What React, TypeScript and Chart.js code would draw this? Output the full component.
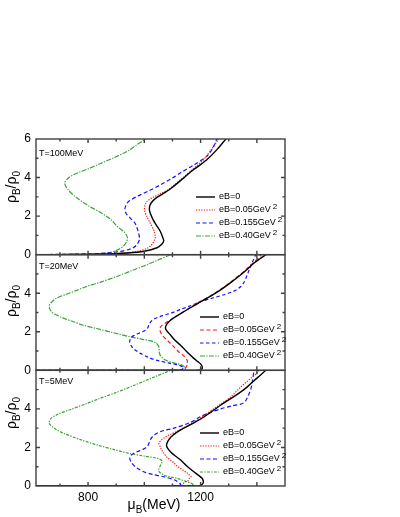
import React, { useEffect, useRef } from 'react';
import { Chart, registerables } from 'chart.js';

Chart.register(...registerables);

type Pt = [number, number];

// ---------- data (μB in MeV, ρB/ρ0) ----------
const PANEL_LABELS = ['T=100MeV', 'T=20MeV', 'T=5MeV'];
const SERIES_LABELS = ['eB=0', 'eB=0.05GeV', 'eB=0.155GeV', 'eB=0.40GeV'];
const SERIES_SUPS = ['', '2', '2', '2'];
const X_TICK_LABELS = [800, 1200];
const Y_TICK_LABELS_TOP = [0, 2, 4, 6];
const Y_TICK_LABELS_LOWER = [0, 2, 4];

// T = 100 MeV
const T100_EB0: Pt[] = [
  [615, 0], [750, 0.01], [850, 0.03], [940, 0.09], [1000, 0.18], [1045, 0.36], [1063, 0.55], [1069, 0.72],
  [1064, 0.95], [1057, 1.2], [1042, 1.55], [1031, 1.82], [1020, 2.2], [1018, 2.42], [1024, 2.68], [1040, 2.92],
  [1060, 3.1], [1093, 3.42], [1135, 3.92], [1165, 4.3], [1195, 4.62], [1224, 4.95], [1258, 5.45], [1290, 6.0], [1300, 6.15],
];
const T100_EB005: Pt[] = [
  [615, 0], [800, 0.02], [900, 0.05], [975, 0.17], [1010, 0.33], [1025, 0.5], [1036, 0.75], [1039, 0.95],
  [1034, 1.25], [1021, 1.64], [1008, 2.0], [1001, 2.3], [1002, 2.55], [1010, 2.76], [1028, 2.95], [1055, 3.15],
  [1090, 3.42], [1130, 3.9], [1160, 4.28], [1210, 4.92], [1238, 5.45], [1264, 6.0], [1274, 6.15],
];
const T100_EB0155: Pt[] = [
  [615, 0], [800, 0.04], [880, 0.1], [914, 0.17], [945, 0.27], [962, 0.37], [975, 0.55], [983, 0.8],
  [978, 1.2], [968, 1.6], [950, 1.9], [936, 2.12], [931, 2.35], [936, 2.6], [946, 2.78], [974, 3.02],
  [1015, 3.3], [1057, 3.62], [1100, 3.98], [1135, 4.3], [1175, 4.65], [1222, 5.1], [1244, 5.55], [1258, 6.0], [1265, 6.15],
];
const T100_EB040: Pt[] = [
  [615, 0], [700, 0.01], [780, 0.03], [840, 0.06], [880, 0.12], [905, 0.25], [926, 0.45], [938, 0.7],
  [940, 0.9], [930, 1.15], [905, 1.45], [879, 1.85], [843, 2.2], [800, 2.55], [760, 2.95], [730, 3.35],
  [717, 3.7], [730, 3.98], [760, 4.22], [800, 4.45], [843, 4.72], [890, 5.02], [938, 5.35], [975, 5.72], [1004, 6.0], [1015, 6.15],
];

// T = 20 MeV
const T20_EB0: Pt[] = [
  [615, 0], [1100, 0], [1180, 0], [1198, 0.02], [1206, 0.1], [1202, 0.3], [1190, 0.45], [1176, 0.62],
  [1152, 0.95], [1129, 1.3], [1108, 1.57], [1093, 1.83], [1080, 2.05], [1075, 2.2], [1080, 2.4], [1093, 2.6],
  [1115, 2.82], [1140, 3.04], [1188, 3.45], [1236, 3.85], [1271, 4.17], [1307, 4.55], [1343, 4.96], [1368, 5.27],
  [1390, 5.57], [1412, 5.8], [1432, 6.0], [1445, 6.15],
];
const T20_EB005: Pt[] = [
  [615, 0], [1100, 0], [1138, 0.02], [1148, 0.15], [1153, 0.35], [1152, 0.52], [1140, 0.75], [1123, 0.95],
  [1105, 1.22], [1087, 1.48], [1068, 1.75], [1058, 1.98], [1055, 2.15], [1062, 2.32], [1075, 2.45], [1093, 2.62],
  [1115, 2.82], [1140, 3.05], [1188, 3.48], [1236, 3.87], [1271, 4.2], [1307, 4.58], [1343, 5.0], [1368, 5.32],
  [1390, 5.62], [1410, 5.9], [1418, 6.1],
];
const T20_EB0155: Pt[] = [
  [615, 0], [1080, 0], [1130, 0.03], [1140, 0.15], [1120, 0.28], [1093, 0.36], [1045, 0.52], [1010, 0.7],
  [986, 0.88], [965, 1.08], [956, 1.22], [948, 1.48], [952, 1.68], [962, 1.8], [985, 1.95], [1004, 2.08],
  [1012, 2.2], [1017, 2.38], [1025, 2.55], [1040, 2.7], [1065, 2.84], [1093, 2.96], [1129, 3.16], [1164, 3.35],
  [1200, 3.56], [1240, 3.74], [1283, 3.92], [1320, 4.12], [1343, 4.35], [1355, 4.58], [1361, 4.78], [1367, 5.0],
  [1373, 5.22], [1385, 5.65], [1396, 6.0], [1402, 6.15],
];
const T20_EB040: Pt[] = [
  [615, 0], [1100, 0], [1140, 0.03], [1146, 0.09], [1135, 0.26], [1115, 0.35], [1093, 0.43], [1070, 0.58],
  [1058, 0.75], [1053, 0.95], [1053, 1.15], [1048, 1.32], [1033, 1.48], [990, 1.62], [950, 1.74], [890, 1.95],
  [831, 2.17], [780, 2.35], [748, 2.52], [710, 2.72], [688, 2.87], [670, 3.05], [662, 3.3], [668, 3.5],
  [688, 3.74], [724, 3.95], [760, 4.15], [795, 4.35], [850, 4.6], [902, 4.87], [955, 5.17], [1010, 5.48],
  [1050, 5.73], [1093, 6.0], [1120, 6.2],
];

// T = 5 MeV
const T5_EB0: Pt[] = [
  [615, 0], [1150, 0], [1190, 0], [1205, 0.08], [1210, 0.22], [1205, 0.4], [1193, 0.55], [1176, 0.74],
  [1152, 1.02], [1129, 1.35], [1108, 1.58], [1093, 1.78], [1082, 1.98], [1079, 2.13], [1084, 2.33], [1093, 2.52],
  [1115, 2.78], [1140, 3.0], [1176, 3.28], [1212, 3.58], [1271, 4.19], [1307, 4.53], [1343, 4.88], [1365, 5.13],
  [1385, 5.4], [1410, 5.72], [1432, 6.0], [1445, 6.15],
];
const T5_EB005: Pt[] = [
  [615, 0], [1120, 0], [1136, 0.05], [1142, 0.2], [1156, 0.28], [1160, 0.4], [1166, 0.5], [1158, 0.6],
  [1150, 0.7], [1140, 0.8], [1125, 0.95], [1117, 1.02], [1105, 1.2], [1093, 1.35], [1080, 1.5], [1069, 1.7],
  [1060, 1.92], [1055, 2.1], [1052, 2.22], [1060, 2.38], [1069, 2.48], [1090, 2.66], [1115, 2.82], [1140, 3.02],
  [1176, 3.32], [1212, 3.65], [1271, 4.25], [1307, 4.62], [1343, 5.14], [1365, 5.42], [1385, 5.66], [1400, 5.85],
  [1410, 6.02], [1418, 6.15],
];
const T5_EB0155: Pt[] = [
  [615, 0], [1100, 0], [1125, 0.03], [1129, 0.1], [1110, 0.3], [1069, 0.48], [1030, 0.6], [998, 0.74],
  [972, 0.95], [956, 1.18], [948, 1.44], [955, 1.62], [974, 1.78], [995, 1.9], [1010, 2.04], [1016, 2.2],
  [1021, 2.39], [1030, 2.58], [1045, 2.74], [1070, 2.88], [1105, 3.0], [1164, 3.3], [1200, 3.6], [1235, 3.82],
  [1271, 4.0], [1310, 4.15], [1349, 4.28], [1360, 4.42], [1367, 4.6], [1374, 4.85], [1379, 5.05], [1385, 5.49],
  [1390, 6.0], [1393, 6.15],
];
const T5_EB040: Pt[] = [
  [615, 0], [1120, 0], [1160, 0.02], [1176, 0.05], [1165, 0.15], [1152, 0.22], [1135, 0.3], [1117, 0.4],
  [1090, 0.48], [1069, 0.57], [1055, 0.7], [1051, 0.83], [1054, 0.96], [1058, 1.09], [1063, 1.25], [1060, 1.35],
  [1045, 1.44], [1000, 1.55], [950, 1.68], [890, 1.9], [831, 2.13], [770, 2.42], [712, 2.74], [680, 3.0],
  [662, 3.26], [668, 3.5], [688, 3.69], [740, 3.98], [790, 4.25], [843, 4.55], [900, 4.85], [960, 5.2],
  [1030, 5.62], [1093, 6.0], [1125, 6.2],
];

const PANEL_CURVES: Pt[][][] = [
  [T100_EB0, T100_EB005, T100_EB0155, T100_EB040],
  [T20_EB0, T20_EB005, T20_EB0155, T20_EB040],
  [T5_EB0, T5_EB005, T5_EB0155, T5_EB040],
];

// ---------- styles / layout ----------
const X_MIN = 615;
const X_MAX = 1500;
const Y_MIN = 0;
const Y_MAX = 6;
const Y_IDS = ['yTop', 'yMid', 'yBot'];
const FONT = '"Liberation Sans", Arial, Helvetica, sans-serif';
const COLORS = ['#000000', '#ff1a1a', '#1010ff', '#3aa33a'];
const WIDTHS = [1.4, 1.2, 1.2, 1.2];
const DASHES: number[][][] = [
  [[], [1.3, 1.3], [4, 2.5], [5, 1.3, 1.3, 1.3]],
  [[], [4, 2.5], [3.5, 2.5], [5, 1.3, 1.3, 1.3]],
  [[], [1.3, 1.3], [4, 2.5], [3, 1.3, 1.3, 1.3]],
];
const FRAME_COLOR = '#404040';
const LEGEND_POS = [
  { left: 196, top: 190 },
  { left: 200, top: 310 },
  { left: 200, top: 426 },
];
const PANEL_LABEL_TOPS = [148.5, 261.5, 376.5];
const Y_TITLE_CENTERS = [187, 301, 413];

const framePlugin = {
  id: 'panelFrames',
  afterDatasetsDraw(chart: any) {
    const { ctx, chartArea } = chart;
    const { left, right } = chartArea;
    const xs = chart.scales.x;
    ctx.save();
    ctx.strokeStyle = FRAME_COLOR;
    ctx.lineWidth = 1.4;
    for (const id of Y_IDS) {
      const ys = chart.scales[id];
      const top = ys.getPixelForValue(Y_MAX);
      const bottom = ys.getPixelForValue(Y_MIN);
      ctx.strokeRect(left, top, right - left, bottom - top);
      ctx.beginPath();
      for (let v = Y_MIN + 1; v < Y_MAX; v++) {
        const py = ys.getPixelForValue(v);
        const len = v % 2 === 0 ? 4 : 2.5;
        ctx.moveTo(left, py);
        ctx.lineTo(left + len, py);
        ctx.moveTo(right, py);
        ctx.lineTo(right - len, py);
      }
      for (const t of xs.ticks) {
        if (t.value <= X_MIN || t.value >= X_MAX) continue;
        const px = xs.getPixelForValue(t.value);
        const len = t.value % 200 === 0 ? 4 : 2.5;
        ctx.moveTo(px, bottom);
        ctx.lineTo(px, bottom - len);
        ctx.moveTo(px, top);
        ctx.lineTo(px, top + len);
      }
      ctx.stroke();
    }
    ctx.restore();
  },
};

function yScale(p: number) {
  const shown = p === 0 ? Y_TICK_LABELS_TOP : Y_TICK_LABELS_LOWER;
  return {
    type: 'linear',
    min: Y_MIN,
    max: Y_MAX,
    position: 'left',
    stack: 'panels',
    stackWeight: 1,
    weight: 3 - p,
    grid: { display: false, drawTicks: false },
    border: { display: false },
    ticks: {
      stepSize: 2,
      padding: 5,
      color: '#000',
      font: { size: 12, family: FONT },
      callback: (v: number) => (shown.includes(v) ? String(v) : ''),
    },
    afterFit: (s: any) => {
      s.width = 30;
    },
  };
}

export default function App() {
  const ref = useRef<HTMLCanvasElement>(null);

  useEffect(() => {
    const canvas = ref.current;
    if (!canvas) return;
    const datasets: any[] = [];
    PANEL_CURVES.forEach((curves, p) => {
      curves.forEach((pts, s) => {
        datasets.push({
          label: `${PANEL_LABELS[p]} ${SERIES_LABELS[s]}`,
          data: pts.map(([x, y]) => ({ x, y })),
          xAxisID: 'x',
          yAxisID: Y_IDS[p],
          borderColor: COLORS[s],
          backgroundColor: COLORS[s],
          borderWidth: WIDTHS[s],
          borderDash: DASHES[p][s],
          showLine: true,
          pointRadius: 0,
          pointHoverRadius: 0,
          tension: 0.3,
          fill: false,
        });
      });
    });
    const chart = new Chart(canvas, {
      type: 'scatter',
      data: { datasets },
      options: {
        animation: false,
        responsive: false,
        maintainAspectRatio: false,
        events: [],
        layout: { padding: { left: 6, right: 115, top: 139, bottom: 0 } },
        plugins: { legend: { display: false }, tooltip: { enabled: false } },
        scales: {
          x: {
            type: 'linear',
            min: X_MIN,
            max: X_MAX,
            position: 'bottom',
            grid: { display: false, drawTicks: false },
            border: { display: false },
            ticks: {
              stepSize: 100,
              includeBounds: false,
              autoSkip: false,
              maxRotation: 0,
              padding: 4,
              color: '#000',
              font: { size: 12, family: FONT },
              callback: (v: number) => (X_TICK_LABELS.includes(v) ? String(v) : ''),
            },
            afterFit: (s: any) => {
              s.height = 31;
            },
          },
          yTop: yScale(0),
          yMid: yScale(1),
          yBot: yScale(2),
        } as any,
      },
      plugins: [framePlugin],
    } as any);
    return () => chart.destroy();
  }, []);

  return (
    <div
      style={{
        position: 'absolute',
        left: 0,
        top: 0,
        width: 400,
        height: 517,
        background: '#fff',
        fontFamily: FONT,
        color: '#000',
      }}
    >
      <canvas ref={ref} width={400} height={517} style={{ position: 'absolute', left: 0, top: 0 }} />
      {PANEL_LABELS.map((t, p) => (
        <div
          key={t}
          style={{ position: 'absolute', left: 39, top: PANEL_LABEL_TOPS[p], fontSize: 9, lineHeight: '9px', whiteSpace: 'nowrap' }}
        >
          {t}
        </div>
      ))}
      {Y_TITLE_CENTERS.map((cy, p) => (
        <div
          key={'yt' + p}
          style={{
            position: 'absolute',
            left: 14,
            top: cy,
            transform: 'translate(-50%, -50%) rotate(-90deg)',
            fontSize: 14,
            lineHeight: '14px',
            whiteSpace: 'nowrap',
          }}
        >
          ρ<sub style={{ fontSize: 10 }}>B</sub>/ρ<sub style={{ fontSize: 10 }}>0</sub>
        </div>
      ))}
      <div
        style={{
          position: 'absolute',
          left: 154,
          top: 507,
          transform: 'translate(-50%, -50%)',
          fontSize: 14,
          lineHeight: '14px',
          whiteSpace: 'nowrap',
        }}
      >
        μ<sub style={{ fontSize: 10 }}>B</sub>(MeV)
      </div>
      {LEGEND_POS.map((pos, p) => (
        <div key={'lg' + p} style={{ position: 'absolute', left: pos.left, top: pos.top }}>
          {SERIES_LABELS.map((lab, s) => (
            <div key={lab} style={{ display: 'flex', alignItems: 'center', height: 13, whiteSpace: 'nowrap' }}>
              <svg width={19} height={4} style={{ display: 'block' }}>
                <line
                  x1={0}
                  y1={2}
                  x2={19}
                  y2={2}
                  stroke={COLORS[s]}
                  strokeWidth={WIDTHS[s]}
                  strokeDasharray={DASHES[p][s].length ? DASHES[p][s].join(' ') : undefined}
                />
              </svg>
              <span style={{ marginLeft: 4, fontSize: 9, lineHeight: '9px' }}>
                {lab}
                {SERIES_SUPS[s] && (
                  <span style={{ fontSize: 8, position: 'relative', top: -3, marginLeft: 2 }}>{SERIES_SUPS[s]}</span>
                )}
              </span>
            </div>
          ))}
        </div>
      ))}
    </div>
  );
}
